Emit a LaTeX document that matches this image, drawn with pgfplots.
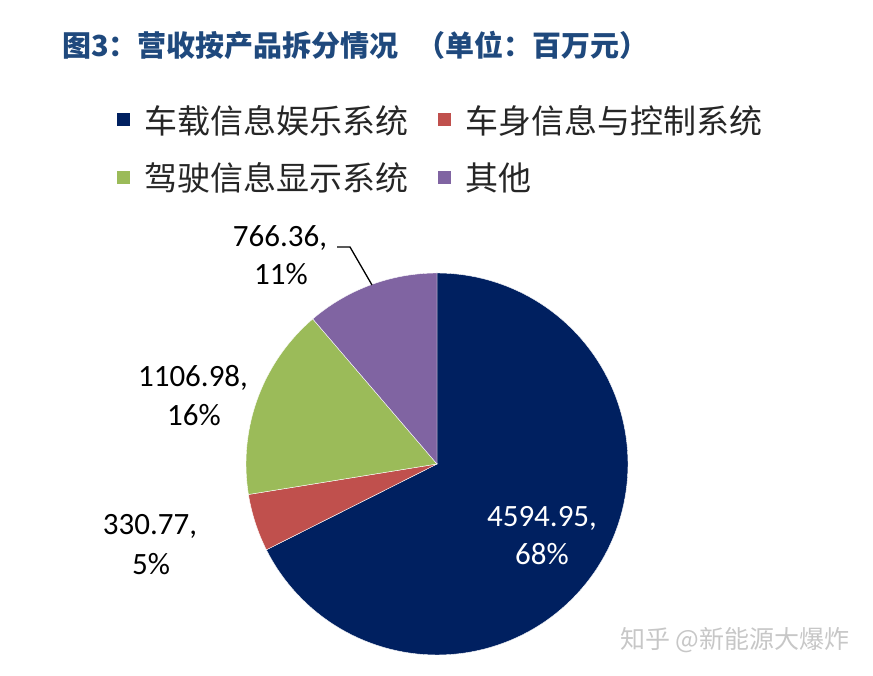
\documentclass[border=0pt]{standalone}
\usepackage{pgfplots}
\pgfplotsset{compat=1.18}
\usepackage{fontspec}
\setmainfont{Carlito}
\newfontfamily\cjk{Noto Sans CJK SC}
\definecolor{cNavy}{RGB}{0,32,96}
\definecolor{cRed}{RGB}{192,80,77}
\definecolor{cGreen}{RGB}{155,187,89}
\definecolor{cPurple}{RGB}{128,100,162}
\definecolor{cTitle}{RGB}{31,73,125}
\begin{document}
\begin{tikzpicture}
% data (million yuan)
\pgfmathsetmacro{\vA}{4594.95}
\pgfmathsetmacro{\vB}{330.77}
\pgfmathsetmacro{\vC}{1106.98}
\pgfmathsetmacro{\vD}{766.36}
\pgfmathsetmacro{\tot}{\vA+\vB+\vC+\vD}
\pgfmathsetmacro{\sA}{90}
\pgfmathsetmacro{\eA}{\sA-360*(\vA/\tot)}
\pgfmathsetmacro{\eB}{\eA-360*(\vB/\tot)}
\pgfmathsetmacro{\eC}{\eB-360*(\vC/\tot)}
\pgfmathsetmacro{\eD}{\eC-360*(\vD/\tot)}
\begin{axis}[
  width=873pt, height=676pt, scale only axis,
  xmin=0, xmax=873, ymin=0, ymax=676,
  hide axis, clip=false,
  legend columns=2,
  legend cell align=left,
  legend style={at={(axis cs:114,575)}, anchor=north west, draw=none, fill=none,
    font=\cjk\fontsize{33}{38}\selectfont, text=black!85,
    row sep=24pt,
    nodes={inner xsep=2pt, inner ysep=2pt},
    /tikz/every odd column/.append style={column sep=12pt},
    /tikz/every even column/.append style={column sep=28pt}},
  legend image code/.code={\fill[#1,draw=none] (0pt,-6.5pt) rectangle (13pt,6.5pt);},
]
\path (axis cs:0,0) rectangle (axis cs:873,676);
\addplot[fill=cNavy, draw=white, line width=0.4pt, domain=\eA:\sA, samples=120, variable=\t]
  ({437+191*cos(\t)},{212+191*sin(\t)}) -- (axis cs:437,212) -- cycle;
\addlegendentry{车载信息娱乐系统}
\addplot[fill=cRed, draw=white, line width=0.4pt, domain=\eB:\eA, samples=20, variable=\t]
  ({437+191*cos(\t)},{212+191*sin(\t)}) -- (axis cs:437,212) -- cycle;
\addlegendentry{车身信息与控制系统}
\addplot[fill=cGreen, draw=white, line width=0.4pt, domain=\eC:\eB, samples=40, variable=\t]
  ({437+191*cos(\t)},{212+191*sin(\t)}) -- (axis cs:437,212) -- cycle;
\addlegendentry{驾驶信息显示系统}
\addplot[fill=cPurple, draw=white, line width=0.4pt, domain=\eD:\eC, samples=30, variable=\t]
  ({437+191*cos(\t)},{212+191*sin(\t)}) -- (axis cs:437,212) -- cycle;
\addlegendentry{其他}
% leader line
\addplot[forget plot, black, line width=1.3pt] coordinates {(337,429) (350,429) (372,391)};
% title
\node[anchor=base west, text=cTitle, font=\cjk\bfseries\fontsize{29}{32}\selectfont, inner sep=0pt]
  at (axis cs:62,619) {图3：营收按产品拆分情况\hspace{0.6em}（单位：百万元）};
% data labels
\begin{scope}[every node/.style={anchor=base, inner sep=0pt, font=\fontsize{31}{36}\selectfont}]
\node[text=white] at (axis cs:542,149) {4594.95,};
\node[text=white] at (axis cs:542,111) {68\%};
\node at (axis cs:280,429) {766.36,};
\node at (axis cs:281,391) {11\%};
\node at (axis cs:193,289) {1106.98,};
\node at (axis cs:194,250) {16\%};
\node at (axis cs:150,141) {330.77,};
\node at (axis cs:151,101) {5\%};
\end{scope}
% watermark
\node[anchor=base, text=black!22, font=\cjk\fontsize{25}{28}\selectfont, inner sep=0pt]
  at (axis cs:735,27) {知乎 @新能源大爆炸};
\end{axis}
\end{tikzpicture}
\end{document}
